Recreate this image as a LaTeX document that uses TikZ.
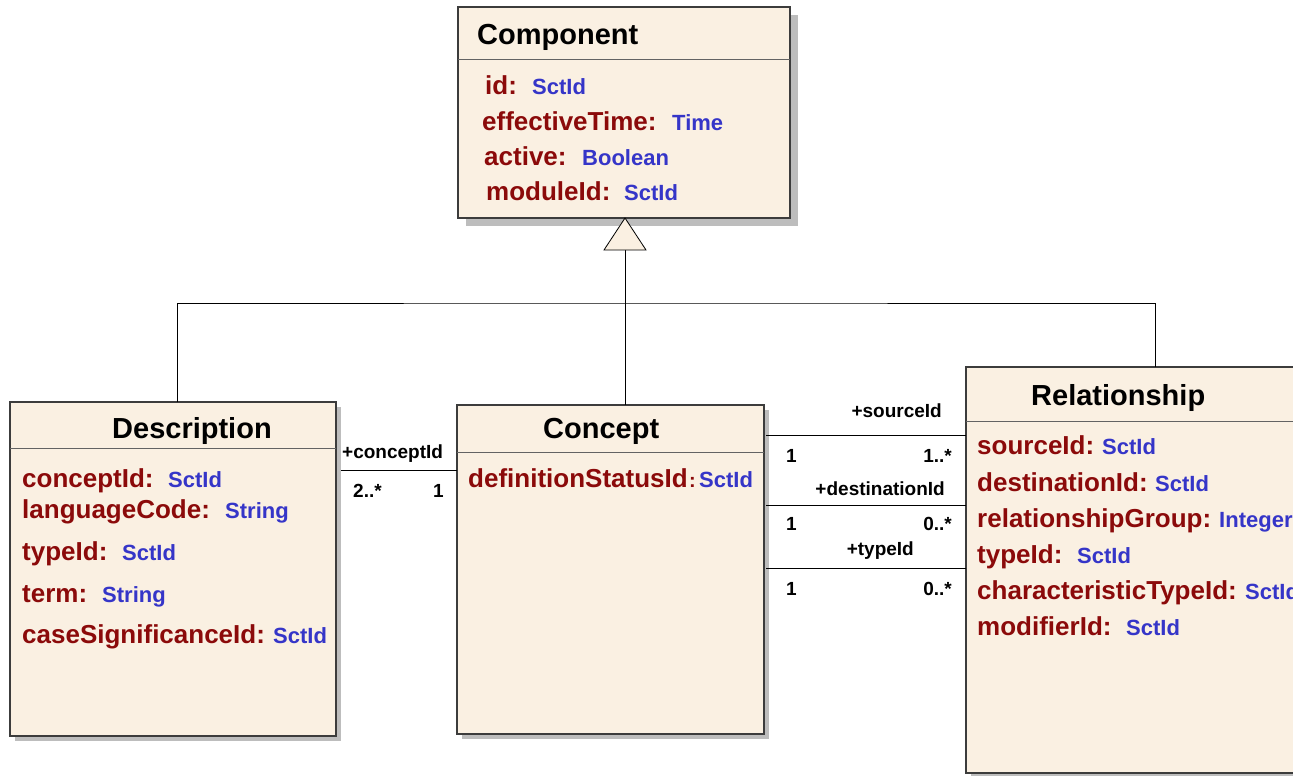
\documentclass[tikz,border=0pt]{standalone}
\usepackage{fontspec}
\setmainfont{Liberation Sans}
\usetikzlibrary{shadows,calc}
\definecolor{cream}{HTML}{FAF0E2}
\definecolor{attr}{HTML}{8B0A0A}
\definecolor{typ}{HTML}{3535C8}
\definecolor{shade}{HTML}{BDBDBD}
\definecolor{edge}{HTML}{3C3C3C}
\tikzset{
  classbox/.style={draw=edge, line width=1.1pt, fill=cream, inner sep=0pt, outer sep=0pt, anchor=north west},
  shad/.style={general shadow={fill=shade, shadow xshift=#1pt, shadow yshift=-#1pt}},
  sepline/.style={draw=edge!80, line width=0.9pt},
  conn/.style={draw=black, line width=0.8pt},
  title/.style={inner sep=0pt, anchor=base west, font=\fontsize{29}{34}\selectfont\bfseries},
  nm/.style={inner sep=0pt, anchor=base west, text=attr, font=\fontsize{26}{30}\selectfont\bfseries},
  ty/.style={inner sep=0pt, anchor=base west, text=typ, font=\fontsize{22}{26}\selectfont\bfseries},
  lbl/.style={inner sep=0pt, font=\fontsize{19}{22}\selectfont\bfseries},
}
\begin{document}
\begin{tikzpicture}[x=1pt,y=-1pt]
\useasboundingbox (0,0) rectangle (1293,776);
\fill[white] (0,0) rectangle (1293,776);
\clip (0,0) rectangle (1293,776);

% boxes
\node[classbox, shad=8, minimum width=332pt, minimum height=211pt] (comp) at (458,7) {};
\node[classbox, shad=5, minimum width=326pt, minimum height=334pt] (desc) at (10,402) {};
\node[classbox, shad=5, minimum width=307pt, minimum height=329pt] (conc) at (457,405) {};
\node[classbox, shad=5, minimum width=345pt, minimum height=406pt] (rel) at (966,367) {};

% header separators
\draw[sepline] ($(comp.north west)+(0,52)$) -- ($(comp.north east)+(0,52)$);
\draw[sepline] ($(desc.north west)+(0,46)$) -- ($(desc.north east)+(0,46)$);
\draw[sepline] ($(conc.north west)+(0,47)$) -- ($(conc.north east)+(0,47)$);
\draw[sepline] ($(rel.north west)+(0,54)$) -- ($(rel.north east)+(0,54)$);

% titles
\node[title] (compT) at (477,45) {Component};
\node[title] (descT) at (112,438) {Description};
\node[title] (concT) at (543,438) {Concept};
\node[title] (relT) at (1031,405) {Relationship};

% Component attributes
\node[nm] (c1) at (485,95) {id:};
\node[ty] (c1t) at (532,95) {SctId};
\node[nm] (c2) at (482,130) {effectiveTime:};
\node[ty] (c2t) at (672,130) {Time};
\node[nm] (c3) at (484,165) {active:};
\node[ty] (c3t) at (582,165) {Boolean};
\node[nm] (c4) at (486,200) {moduleId:};
\node[ty] (c4t) at (624,200) {SctId};

% Description attributes
\node[nm] (d1) at (22,487) {conceptId:};
\node[ty] (d1t) at (168,487) {SctId};
\node[nm] (d2) at (22,518) {languageCode:};
\node[ty] (d2t) at (225,518) {String};
\node[nm] (d3) at (22,560) {typeId:};
\node[ty] (d3t) at (122,560) {SctId};
\node[nm] (d4) at (22,602) {term:};
\node[ty] (d4t) at (102,602) {String};
\node[nm] (d5) at (22,643) {caseSignificanceId:};
\node[ty] (d5t) at (273,643) {SctId};

% Concept attributes
\node[nm] (k1) at (468,487) {definitionStatusId};
\node[nm, font=\fontsize{20}{22}\selectfont\bfseries] (k1c) at (689,487) {:};
\node[ty] (k1t) at (699,487) {SctId};

% Relationship attributes
\node[nm] (r1) at (977,454) {sourceId:};
\node[ty] (r1t) at (1102,454) {SctId};
\node[nm] (r2) at (977,491) {destinationId:};
\node[ty] (r2t) at (1155,491) {SctId};
\node[nm] (r3) at (977,527) {relationshipGroup:};
\node[ty] (r3t) at (1219,527) {Integer};
\node[nm] (r4) at (977,563) {typeId:};
\node[ty] (r4t) at (1077,563) {SctId};
\node[nm] (r5) at (977,599) {characteristicTypeId:};
\node[ty] (r5t) at (1245,599) {SctId};
\node[nm] (r6) at (977,635) {modifierId:};
\node[ty] (r6t) at (1126,635) {SctId};

% generalization
\coordinate (apex) at (625,218);
\coordinate (tribase) at (625,250);
\coordinate (j) at (625,303);
\coordinate (dtop) at (177,402);
\coordinate (ctop) at (625,405);
\coordinate (rtop) at (1155,367);
\draw[conn] (ctop) -- (tribase);
\draw[conn] (dtop) |- (j) -| (rtop);
\draw[conn, fill=cream] (apex) -- (604,250) -- (646,250) -- cycle;

% associations
\draw[conn] ($(desc.north east)+(5,68)$) -- ($(conc.north west)+(0,65)$);
\draw[conn] ($(conc.north east)+(2,30)$) -- ($(rel.north west)+(0,68)$);
\draw[conn] ($(conc.north east)+(2,100)$) -- ($(rel.north west)+(0,138)$);
\draw[conn] ($(conc.north east)+(2,163)$) -- ($(rel.north west)+(0,201)$);

% association labels
\node[lbl, anchor=base west] (a1) at (342,458) {+conceptId};
\node[lbl, anchor=base west] (a1m) at (353,497) {2..*};
\node[lbl, anchor=base east] (a1n) at (444,497) {1};

\node[lbl, anchor=base east] (b1) at (942,417) {+sourceId};
\node[lbl, anchor=base west] (b1a) at (786,462) {1};
\node[lbl, anchor=base east] (b1b) at (952,462) {1..*};
\node[lbl, anchor=base east] (b2) at (945,495) {+destinationId};
\node[lbl, anchor=base west] (b2a) at (786,530) {1};
\node[lbl, anchor=base east] (b2b) at (952,530) {0..*};
\node[lbl, anchor=base east] (b3) at (914,555) {+typeId};
\node[lbl, anchor=base west] (b3a) at (786,595) {1};
\node[lbl, anchor=base east] (b3b) at (952,595) {0..*};
\end{tikzpicture}
\end{document}
